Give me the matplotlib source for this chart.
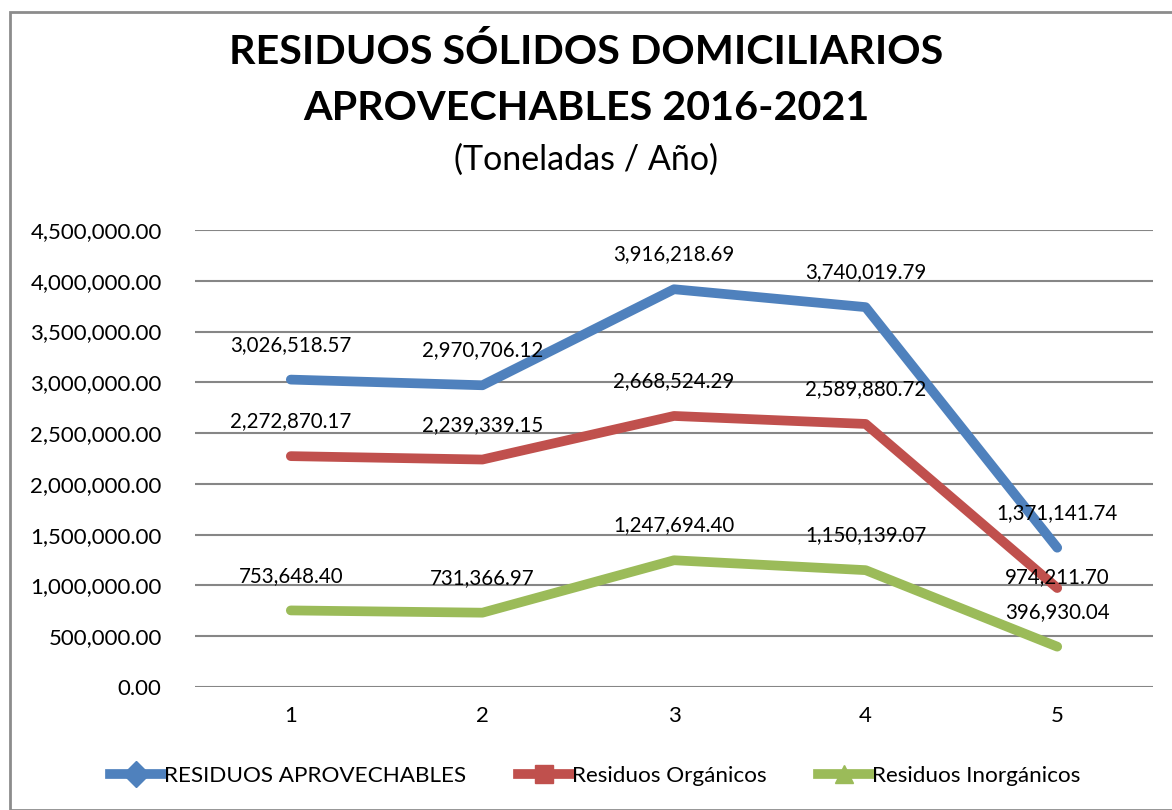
import matplotlib.pyplot as plt
from matplotlib.lines import Line2D
from matplotlib.patches import Rectangle
from matplotlib.ticker import FuncFormatter

plt.rcParams['font.family'] = ['Lato', 'DejaVu Sans']

# data
periods = [1, 2, 3, 4, 5]
aprovechables = [3026518.57, 2970706.12, 3916218.69, 3740019.79, 1371141.74]
organicos = [2272870.17, 2239339.15, 2668524.29, 2589880.72, 974211.70]
inorganicos = [753648.40, 731366.97, 1247694.40, 1150139.07, 396930.04]
series_names = ['RESIDUOS APROVECHABLES', 'Residuos Orgánicos', 'Residuos Inorgánicos']

colors = ['#4F81BD', '#C0504D', '#9BBB59']
markers = ['D', 's', '^']

fig = plt.figure(figsize=(11.72, 8.1), dpi=100)
fig.patches.append(Rectangle((10 / 1172, 0), 1.0, 1 - 12 / 810, transform=fig.transFigure,
                             fill=False, edgecolor='#8c8c8c', linewidth=2))

ax = fig.add_axes([0.1664, 0.1519, 0.8174, 0.5642])

all_series = [aprovechables, organicos, inorganicos]
for vals, col, name in zip(all_series, colors, series_names):
    ax.plot(periods, vals, color=col, linewidth=7, solid_capstyle='round',
            solid_joinstyle='round', zorder=3)
    for x, y in zip(periods, vals):
        off = 25
        if name == 'Residuos Orgánicos' and x == 5:
            off = 8
        ax.annotate(f'{y:,.2f}', (x, y), xytext=(0, off), textcoords='offset points',
                    ha='center', va='center', fontsize=14.8, zorder=4)

ax.set_xlim(0.5, 5.5)
ax.set_ylim(0, 4500000)
ax.set_yticks(range(0, 4500001, 500000))
ax.yaxis.set_major_formatter(FuncFormatter(lambda v, p: f'{v:,.2f}'))
ax.set_xticks(periods)
ax.tick_params(axis='both', length=0, labelsize=16)
ax.tick_params(axis='x', pad=14)
ax.tick_params(axis='y', pad=24)
ax.grid(axis='y', color='#868686', linewidth=1.5)
ax.set_axisbelow(True)
for s in ax.spines.values():
    s.set_visible(False)

fig.text(0.5, 1 - 52 / 810, 'RESIDUOS SÓLIDOS DOMICILIARIOS', ha='center', va='center',
         fontsize=29.7, fontweight='bold')
fig.text(0.5, 1 - 108 / 810, 'APROVECHABLES 2016-2021', ha='center', va='center',
         fontsize=29.7, fontweight='bold')
fig.text(0.5, 1 - 160 / 810, '(Toneladas / Año)', ha='center', va='center', fontsize=24.5)

handles = [Line2D([0], [0], color=c, linewidth=7, marker=m, markersize=13)
           for c, m in zip(colors, markers)]
fig.legend(handles, series_names, loc='center', bbox_to_anchor=(0.508, 1 - 776 / 810),
           ncol=3, frameon=False, fontsize=16.2, handlelength=2.3, handletextpad=0.1,
           columnspacing=2.3)

fig.savefig('out.png', dpi=100)
